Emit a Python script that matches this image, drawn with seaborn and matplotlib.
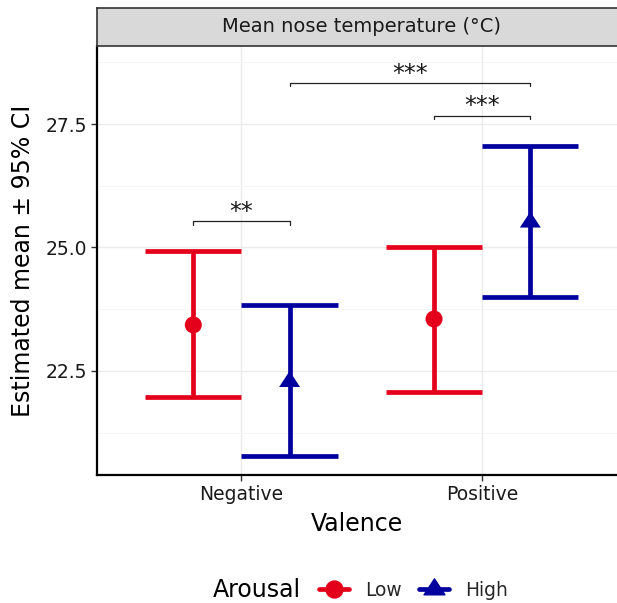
import matplotlib
matplotlib.use("Agg")
import matplotlib.pyplot as plt
from matplotlib.path import Path
from matplotlib.lines import Line2D
import seaborn as sns
import pandas as pd
import numpy as np

# ---- data ----
valence = ["Negative", "Negative", "Positive", "Positive"]
arousal = ["Low", "High", "Low", "High"]
est_mean = [23.43, 22.28, 23.55, 25.51]
ci_low = [21.97, 20.77, 22.08, 23.99]
ci_high = [24.92, 23.84, 25.01, 27.06]

valence_levels = ["Negative", "Positive"]
arousal_levels = ["Low", "High"]

br_x1 = [0.8, 1.8, 1.2]
br_x2 = [1.2, 2.2, 2.2]
br_y = [25.53, 27.67, 28.33]
br_label = ["**", "***", "***"]

red = "#E4001B"
blue = "#00009F"
palette = {"Low": red, "High": blue}

tri = Path([(0, 0.667), (-0.656, -0.333), (0.656, -0.333), (0, 0.667)],
           [Path.MOVETO, Path.LINETO, Path.LINETO, Path.CLOSEPOLY])
markers = {"Low": "o", "High": tri}

dodge = {"Low": -0.2, "High": 0.2}
df = pd.DataFrame({"valence": valence, "arousal": arousal, "mean": est_mean,
                   "lo": ci_low, "hi": ci_high})
df["x"] = [valence_levels.index(v) + 1 + dodge[a] for v, a in zip(df.valence, df.arousal)]

sns.set_theme(style="white")
plt.rcParams["font.family"] = ["DejaVu Sans"]

W, H = 617, 603
fig = plt.figure(figsize=(W / 100, H / 100), dpi=100)
ax = fig.add_axes([97 / W, 1 - 475 / H, (W - 97) / W, (475 - 46) / H])

# grid
ax.set_xlim(0.4, 2.56)
ax.set_ylim(20.39, 29.08)
ax.set_yticks([22.5, 25.0, 27.5])
ax.set_yticks([21.25, 23.75, 26.25, 28.75], minor=True)
ax.set_xticks([1, 2])
ax.set_xticklabels(valence_levels)
ax.set_yticklabels(["22.5", "25.0", "27.5"])
ax.grid(True, which="major", color="#EBEBEB", lw=1.0, zorder=0)
ax.grid(True, which="minor", axis="y", color="#F4F4F4", lw=0.6, zorder=0)
ax.set_axisbelow(True)

# error bars
for _, r in df.iterrows():
    c = palette[r.arousal]
    ax.vlines(r.x, r.lo, r.hi, color=c, lw=3.4, zorder=2)
    ax.hlines([r.lo, r.hi], r.x - 0.2, r.x + 0.2, color=c, lw=3.4, zorder=2)

sizes = {"Low": 150, "High": 235}
sns.scatterplot(data=df, x="x", y="mean", hue="arousal", style="arousal",
                hue_order=arousal_levels, style_order=arousal_levels,
                palette=palette, markers=markers, size="arousal",
                sizes=sizes, size_order=arousal_levels,
                linewidth=0, legend=False, ax=ax, zorder=3)

# significance brackets
tick = 0.07
for x1, x2, y, lab in zip(br_x1, br_x2, br_y, br_label):
    ax.plot([x1, x1, x2, x2], [y - tick, y, y, y - tick], color="#222222", lw=0.9, zorder=4)
    ax.text((x1 + x2) / 2, y + 0.05, lab, ha="center", va="baseline",
            fontsize=17, color="#1A1A1A", zorder=4)

# spines / ticks
for s in ["top", "right"]:
    ax.spines[s].set_visible(False)
for s in ["left", "bottom"]:
    ax.spines[s].set_color("black")
    ax.spines[s].set_linewidth(1.6)
ax.tick_params(axis="both", which="major", length=4, width=1.0, color="#333333",
               labelsize=13.5, labelcolor="#1A1A1A", bottom=True, left=True, pad=3)
ax.tick_params(which="minor", length=0)
ax.set_xlabel("Valence", fontsize=17, color="black", labelpad=6)
ax.set_ylabel("Estimated mean ± 95% CI", fontsize=17, color="black", labelpad=8)

# facet strip
sax = fig.add_axes([97 / W, 1 - 46 / H, (W - 97) / W, 38 / H])
sax.set_facecolor("#D9D9D9")
sax.set_xticks([]); sax.set_yticks([])
for s in sax.spines.values():
    s.set_color("#333333"); s.set_linewidth(1.2)
sax.spines["right"].set_visible(False)
fig.text(361 / W, 1 - 27 / H, "Mean nose temperature (°C)", ha="center", va="center",
         fontsize=14, color="#1A1A1A")

# legend
fig.text(213 / W, 1 - 590 / H, "Arousal", ha="left", va="center", fontsize=17, color="black")
handles = [Line2D([], [], color=red, lw=3.4, marker="o", ms=12.2),
           Line2D([], [], color=blue, lw=3.4, marker=tri, ms=15.3)]
fig.legend(handles, arousal_levels, loc="center left", bbox_to_anchor=(319 / W, 1 - 590 / H),
           ncol=2, frameon=False, fontsize=13.4, handlelength=1.6, handletextpad=0.9,
           columnspacing=0.9, borderpad=0, borderaxespad=0)

fig.savefig("out.png", dpi=100)
